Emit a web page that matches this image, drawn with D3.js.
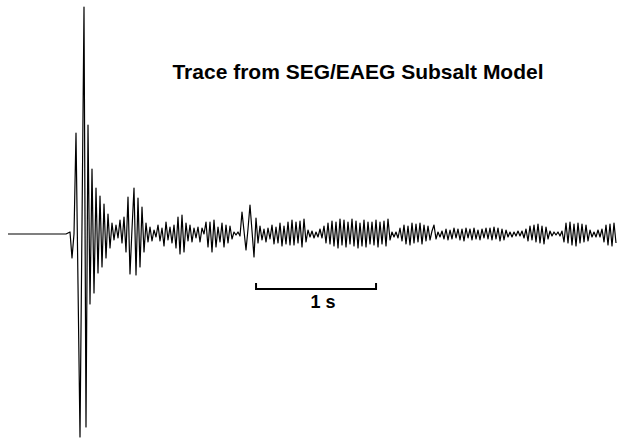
<!DOCTYPE html>
<html>
<head>
<meta charset="utf-8">
<script src="https://d3js.org/d3.v7.min.js"></script>
<style>
  body { margin: 0; background: #fff; }
  svg { display: block; font-family: "Liberation Sans", Arial, Helvetica, sans-serif; }
</style>
</head>
<body>
<svg width="617" height="438"></svg>
<script>
// trace samples (one every 1/60 s)
const sampleInterval = 1 / 60;
const amplitude = [
  0, 0, 0, 0, 0, 0, 0, 0, 0, 0,
  0, 0, 0, 0, 0, 0, 0, 0, 0, 0,
  0, 0, 0, 0, 0, 0, 0, 0, 0, 0,
  1, 2, -24, 0, 101, -50, -203, 10, 227, -193,
  109, -70, 65, -59, 46, -39, 38, -33, 30, -24,
  20, -14, 11, -6, 9, -4, 14, -9, 17, -18,
  37, -40, 5, 46, -41, 36, -33, 27, -18, 11,
  -8, 7, -7, 4, -3, 9, -7, 6, -12, 12,
  -6, 7, -9, 9, -14, 17, -20, 19, -18, 11,
  -7, 9, -8, 6, -4, 7, -8, 6, 0, 12,
  -13, 12, -18, 14, -13, 7, -8, 11, -13, 9,
  -9, 8, -5, 2, -1, 2, -2, 22, 3, -16,
  5, 29, 3, -23, 16, -9, 8, -6, 5, -8,
  6, -5, 9, -10, 7, -9, 11, -12, 8, -10,
  12, -11, 14, -11, 12, -9, 13, -13, 15, -8,
  4, -3, 3, -4, 2, -3, 5, -4, 8, -9,
  11, -10, 13, -12, 12, -14, 15, -11, 14, -13,
  12, -10, 15, -12, 13, -14, 11, -12, 14, -13,
  12, -10, 12, -11, 14, -13, 12, -10, 13, -12,
  15, -6, 2, -3, 2, -4, 6, -7, 9, -10,
  8, -11, 11, -9, 10, -8, 11, -10, 9, -7,
  8, -6, 3, 9, -5, 2, -3, 3, -5, 5,
  -6, 4, -5, 6, -4, 5, -6, 5, -7, 6,
  -4, 5, -6, 6, -5, 4, -6, 5, -4, 6,
  -5, 6, -6, 7, -5, 6, -7, 5, -6, 4,
  -3, 2, -3, 2, -2, 3, -2, 3, -4, 5,
  -7, 8, -6, 9, -8, 10, -9, 8, -10, 7,
  -5, 3, -2, 2, -1, 2, -2, 3, -8, 11,
  -9, 12, -11, 10, -12, 11, -9, 10, -8, 9,
  -7, 4, -3, 2, -3, 4, -3, 5, -8, 9,
  -11, 10, -12, 11, -9
];
const title = "Trace from SEG/EAEG Subsalt Model";
const scaleBarStart = 2.067; // seconds
const scaleBarLength = 1;
const scaleBarLabel = "1 s";

const svg = d3.select("svg");

const x = d3.scaleLinear()
  .domain([0, 5.075])
  .range([8, 617]);

const y = d3.scaleLinear()
  .domain([-227, 227])
  .range([461, 7]);

const line = d3.line()
  .x((d, i) => x(i * sampleInterval))
  .y(d => y(d));

// trace
svg.append("path")
  .datum(amplitude)
  .attr("d", line)
  .attr("fill", "none")
  .attr("stroke", "#000")
  .attr("stroke-width", 1.2)
  .attr("stroke-linejoin", "round");

// title
svg.append("text")
  .attr("x", 358)
  .attr("y", 79)
  .attr("text-anchor", "middle")
  .style("font-size", "21px")
  .style("font-weight", "bold")
  .text(title);

// scale bar
const bar = svg.append("g").attr("class", "scale-bar");
const x0 = x(scaleBarStart), x1 = x(scaleBarStart + scaleBarLength);

bar.append("path")
  .attr("d", `M${x0},283V289H${x1}V283`)
  .attr("fill", "none")
  .attr("stroke", "#000")
  .attr("stroke-width", 2);

bar.append("text")
  .attr("x", (x0 + x1) / 2 + 7)
  .attr("y", 308)
  .attr("text-anchor", "middle")
  .style("font-size", "18px")
  .style("font-weight", "bold")
  .text(scaleBarLabel);
</script>
</body>
</html>
